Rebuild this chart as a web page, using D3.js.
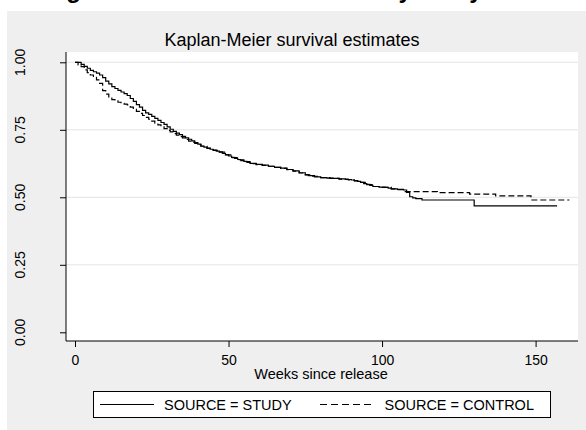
<!DOCTYPE html>
<html>
<head>
<meta charset="utf-8">
<script src="https://cdn.jsdelivr.net/npm/d3@7"></script>
<style>
  body { margin: 0; background: #fff; }
  text { font-family: "Liberation Sans", Arial, sans-serif; fill: #000; }
</style>
</head>
<body>
<div id="chart"></div>
<script>
// survival estimates (weeks, S(t))
var studyWeeks = [0, 2, 3, 4, 5, 6, 7, 8, 9, 10, 11, 12, 13, 14, 15, 16, 17, 18, 19, 20,
  21, 22, 23, 24, 25, 26, 27, 28, 29, 30, 31, 32, 33, 34, 35, 36, 37, 38, 39, 40,
  41, 42, 43, 44, 45, 46, 47, 48, 49, 50, 51, 52, 53, 54, 55, 56, 57, 59, 61, 63,
  65, 67, 69, 71, 73, 75, 76, 78, 80, 82, 84, 86, 88, 90, 91, 92, 93, 94, 95, 96,
  97, 99, 101, 102, 103, 105, 107, 108, 109, 110, 111, 113, 130, 157];
var studySurv = [1.0, 0.992, 0.985, 0.978, 0.97, 0.965, 0.96, 0.953, 0.943, 0.93, 0.92, 0.91, 0.903, 0.896, 0.89, 0.884, 0.877, 0.866, 0.855, 0.843,
  0.834, 0.822, 0.813, 0.807, 0.80, 0.792, 0.785, 0.777, 0.77, 0.761, 0.752, 0.744, 0.738, 0.732, 0.726, 0.72, 0.715, 0.709, 0.703, 0.697,
  0.69, 0.686, 0.682, 0.678, 0.675, 0.671, 0.668, 0.663, 0.658, 0.653, 0.648, 0.644, 0.64, 0.636, 0.633, 0.629, 0.626, 0.622, 0.619, 0.615,
  0.611, 0.608, 0.603, 0.598, 0.591, 0.584, 0.58, 0.576, 0.573, 0.571, 0.57, 0.568, 0.566, 0.564, 0.562, 0.559, 0.555, 0.551, 0.548, 0.544,
  0.54, 0.538, 0.537, 0.534, 0.531, 0.529, 0.527, 0.518, 0.502, 0.498, 0.495, 0.49, 0.468, 0.468];

var controlWeeks = [0, 1, 2, 3, 4, 5, 6, 7, 8, 9, 10, 11, 12, 13, 14, 15, 16, 17, 18, 19,
  20, 21, 22, 23, 24, 25, 26, 27, 28, 29, 30, 31, 32, 33, 34, 35, 36, 37, 38, 39,
  40, 41, 43, 45, 47, 49, 51, 53, 55, 57, 59, 61, 63, 65, 67, 69, 71, 73, 75, 77,
  80, 83, 86, 89, 91, 93, 95, 97, 100, 103, 105, 107, 118, 128.5, 137, 148.5, 161];
var controlSurv = [1.0, 0.99, 0.984, 0.972, 0.962, 0.953, 0.944, 0.935, 0.922, 0.895, 0.882, 0.872, 0.862, 0.857, 0.852, 0.848, 0.845, 0.842, 0.834, 0.826,
  0.818, 0.811, 0.803, 0.796, 0.789, 0.782, 0.775, 0.768, 0.761, 0.754, 0.748, 0.742, 0.736, 0.73, 0.725, 0.72, 0.714, 0.708, 0.704, 0.70,
  0.695, 0.689, 0.681, 0.674, 0.667, 0.657, 0.647, 0.639, 0.632, 0.625, 0.621, 0.618, 0.615, 0.611, 0.607, 0.602, 0.597, 0.59, 0.583, 0.578,
  0.573, 0.57, 0.567, 0.564, 0.561, 0.555, 0.547, 0.54, 0.537, 0.531, 0.528, 0.521, 0.517, 0.512, 0.505, 0.49, 0.49];

var xTicks = [0, 50, 100, 150];
var yTicks = [0, 0.25, 0.5, 0.75, 1];
var legendLabels = ["SOURCE = STUDY", "SOURCE = CONTROL"];

var width = 586, height = 430;
var plot = {left: 66, right: 578, top: 52, bottom: 341};

var svg = d3.select("#chart")
  .append("svg")
  .attr("width", width)
  .attr("height", height);

// outer grey background
svg.append("rect")
  .attr("x", 7).attr("y", 11)
  .attr("width", width - 7).attr("height", height - 11)
  .attr("fill", "#efefef");

// main title, only its descenders show at the top edge (as in the original)
svg.append("text")
  .attr("x", 45).attr("y", -2)
  .style("font-size", "24px")
  .style("font-weight", "bold")
  .text("Figure 1: Recidivism survival by study");

// plot region
svg.append("rect")
  .attr("x", plot.left).attr("y", plot.top)
  .attr("width", plot.right - plot.left).attr("height", plot.bottom - plot.top)
  .attr("fill", "#fff");

var x = d3.scaleLinear().domain([0, 150]).range([75, 535.6]);
var y = d3.scaleLinear().domain([0, 1]).range([332.3, 62.3]);

// gridlines
svg.append("g")
  .selectAll("line")
  .data(yTicks.filter(function(d) { return d > 0; }))
  .enter()
  .append("line")
  .attr("x1", plot.left).attr("x2", plot.right)
  .attr("y1", function(d) { return y(d); })
  .attr("y2", function(d) { return y(d); })
  .attr("stroke", "#e4e4e4")
  .attr("stroke-width", 1);

// y axis
var yAxis = svg.append("g")
  .attr("transform", "translate(" + plot.left + ",0)")
  .call(d3.axisLeft(y).tickValues(yTicks).tickSize(6));
yAxis.select(".domain").remove();
yAxis.selectAll("line").attr("stroke", "#000");
yAxis.selectAll("text").remove();
svg.append("line")
  .attr("x1", plot.left).attr("x2", plot.left)
  .attr("y1", plot.top).attr("y2", plot.bottom)
  .attr("stroke", "#000");

svg.append("g")
  .selectAll("text")
  .data(yTicks)
  .enter()
  .append("text")
  .attr("transform", function(d) { return "translate(25," + y(d) + ") rotate(-90)"; })
  .attr("text-anchor", "middle")
  .style("font-size", "14px")
  .text(d3.format(".2f"));

// x axis
var xAxis = svg.append("g")
  .attr("transform", "translate(0," + plot.bottom + ")")
  .call(d3.axisBottom(x).tickValues(xTicks).tickSize(6).tickFormat(d3.format("d")));
xAxis.select(".domain").remove();
xAxis.selectAll("line").attr("stroke", "#000");
xAxis.selectAll("text")
  .attr("y", 0).attr("dy", null)
  .attr("transform", "translate(0,24)")
  .style("font-size", "14px")
  .style("font-family", "'Liberation Sans', Arial, sans-serif")
  .attr("fill", "#000");
svg.append("line")
  .attr("x1", plot.left).attr("x2", plot.right)
  .attr("y1", plot.bottom).attr("y2", plot.bottom)
  .attr("stroke", "#000");

svg.append("text")
  .attr("x", 321).attr("y", 379)
  .attr("text-anchor", "middle")
  .style("font-size", "14.5px")
  .text("Weeks since release");

svg.append("text")
  .attr("x", 292).attr("y", 46)
  .attr("text-anchor", "middle")
  .style("font-size", "18px")
  .text("Kaplan-Meier survival estimates");

// survival curves
var step = d3.line()
  .x(function(d) { return x(d[0]); })
  .y(function(d) { return y(d[1]); })
  .curve(d3.curveStepAfter);

svg.append("path")
  .datum(d3.zip(controlWeeks, controlSurv))
  .attr("fill", "none")
  .attr("stroke", "#000")
  .attr("stroke-width", 1.2)
  .attr("stroke-dasharray", "6,3")
  .attr("d", step);

svg.append("path")
  .datum(d3.zip(studyWeeks, studySurv))
  .attr("fill", "none")
  .attr("stroke", "#000")
  .attr("stroke-width", 1.2)
  .attr("d", step);

// legend
var legend = svg.append("g");
legend.append("rect")
  .attr("x", 93.5).attr("y", 391.5)
  .attr("width", 457).attr("height", 26)
  .attr("fill", "#fff")
  .attr("stroke", "#000");

legend.append("line")
  .attr("x1", 100).attr("x2", 154)
  .attr("y1", 404.5).attr("y2", 404.5)
  .attr("stroke", "#000").attr("stroke-width", 1.2);
legend.append("text")
  .attr("x", 164).attr("y", 409.5)
  .style("font-size", "14.5px")
  .text(legendLabels[0]);

legend.append("line")
  .attr("x1", 320).attr("x2", 374)
  .attr("y1", 404.5).attr("y2", 404.5)
  .attr("stroke", "#000").attr("stroke-width", 1.2)
  .attr("stroke-dasharray", "7,4");
legend.append("text")
  .attr("x", 384.5).attr("y", 409.5)
  .style("font-size", "14.5px")
  .text(legendLabels[1]);
</script>
</body>
</html>
